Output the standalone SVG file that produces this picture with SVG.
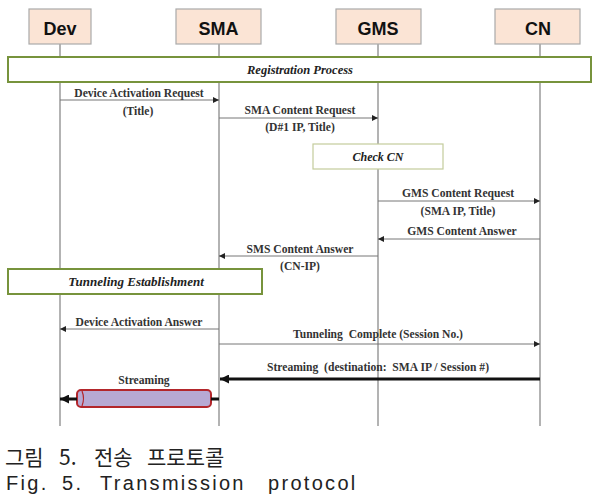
<svg xmlns="http://www.w3.org/2000/svg" width="593" height="495" viewBox="0 0 593 495">
<style>
.box{fill:#fbe4d5;stroke:#aaaaaa;stroke-width:1.2}
.lbl{font-family:"Liberation Sans",Arial,sans-serif;font-weight:bold;font-size:18px;fill:#111;text-anchor:middle}
.life{stroke:#9a9a9a;stroke-width:1.5;fill:none}
.band{fill:#fff;stroke:#77933c;stroke-width:2}
.band2{fill:#fff;stroke:#c4cc9c;stroke-width:1.2}
.bt{font-family:"Liberation Serif","Times New Roman",serif;font-style:italic;font-weight:bold;fill:#222;text-anchor:middle}
.msg{stroke:#777;stroke-width:1;fill:none}
.thick{stroke:#111;stroke-width:3;fill:none}
.mt{font-family:"Liberation Serif","Times New Roman",serif;font-weight:bold;font-size:11.6px;fill:#333;text-anchor:middle}
.cap{font-family:"Noto Sans CJK KR","Noto Sans",sans-serif;font-size:21px;fill:#222}
.fig{font-family:"Liberation Sans",Arial,sans-serif;font-size:20px;letter-spacing:2.3px;fill:#222}
</style>
<defs>
<marker id="ah" viewBox="0 0 10 10" refX="10" refY="5" markerWidth="6" markerHeight="6" markerUnits="userSpaceOnUse" orient="auto"><path d="M0,0 L10,5 L0,10 z" fill="#222"/></marker>
<marker id="ahb" viewBox="0 0 10 10" refX="10" refY="5" markerWidth="10" markerHeight="9" markerUnits="userSpaceOnUse" orient="auto"><path d="M0,0 L10,5 L0,10 z" fill="#111"/></marker>
</defs>

<g id="lifelines">
<line class="life" x1="60" y1="44" x2="60" y2="426"/>
<line class="life" x1="219" y1="44" x2="219" y2="426"/>
<line class="life" x1="378" y1="44" x2="378" y2="426"/>
<line class="life" x1="540" y1="44" x2="540" y2="426"/>
</g>

<g id="dev"><rect class="box" x="29" y="9" width="62" height="35"/><text class="lbl" x="60" y="35">Dev</text></g>
<g id="sma"><rect class="box" x="176" y="9" width="85" height="35"/><text class="lbl" x="218.5" y="35">SMA</text></g>
<g id="gms"><rect class="box" x="336" y="9" width="85" height="35"/><text class="lbl" x="378" y="35">GMS</text></g>
<g id="cn"><rect class="box" x="495" y="9" width="85" height="35"/><text class="lbl" x="538" y="35">CN</text></g>

<g id="registration"><rect class="band" x="8" y="57" width="583" height="25"/><text class="bt" x="300" y="74" font-size="12.5">Registration Process</text></g>
<g id="checkcn"><rect class="band2" x="313" y="144" width="130" height="25"/><text class="bt" x="378" y="161" font-size="12">Check CN</text></g>
<g id="tunneling"><rect class="band" x="8" y="269" width="254" height="25"/><text class="bt" x="136" y="286" font-size="13">Tunneling Establishment</text></g>

<g id="streambar">
<rect x="77" y="390" width="134" height="17" rx="4" fill="#b7a9d3" stroke="#b3262b" stroke-width="2"/>
<path d="M82,391 Q85,398.5 82,406" fill="none" stroke="#b3262b" stroke-width="1.2"/>
</g>

<g id="connectors">
<line class="msg" x1="60" y1="100" x2="219" y2="100" marker-end="url(#ah)"/>
<line class="msg" x1="219" y1="118" x2="378" y2="118" marker-end="url(#ah)"/>
<line class="msg" x1="378" y1="201" x2="540" y2="201" marker-end="url(#ah)"/>
<line class="msg" x1="540" y1="239" x2="378" y2="239" marker-end="url(#ah)"/>
<line class="msg" x1="378" y1="256" x2="219" y2="256" marker-end="url(#ah)"/>
<line class="msg" x1="219" y1="329" x2="60" y2="329" marker-end="url(#ah)"/>
<line class="msg" x1="219" y1="344" x2="540" y2="344" marker-end="url(#ah)"/>
<line class="thick" x1="540" y1="379" x2="220" y2="379" marker-end="url(#ahb)"/>
<line class="thick" x1="211" y1="399" x2="219" y2="399"/>
<line class="thick" x1="77" y1="399" x2="60" y2="399" marker-end="url(#ahb)"/>
</g>

<g id="labels">
<text class="mt" x="139" y="97">Device Activation  Request</text>
<text class="mt" x="138" y="115">(Title)</text>
<text class="mt" x="300" y="114">SMA Content  Request</text>
<text class="mt" x="300" y="131">(D#1 IP, Title)</text>
<text class="mt" x="458" y="197">GMS Content  Request</text>
<text class="mt" x="458" y="215">(SMA IP, Title)</text>
<text class="mt" x="462" y="235">GMS Content  Answer</text>
<text class="mt" x="300" y="253">SMS Content Answer</text>
<text class="mt" x="300" y="270">(CN-IP)</text>
<text class="mt" x="139" y="326">Device Activation  Answer</text>
<text class="mt" x="378" y="338" xml:space="preserve">Tunneling  Complete (Session No.)</text>
<text class="mt" x="378" y="371" xml:space="preserve">Streaming  (destination:  SMA IP / Session #)</text>
<text class="mt" x="144" y="384">Streaming</text>
</g>

<g id="caption">
<text class="cap" y="465"><tspan x="5">그림</tspan><tspan x="59">5.</tspan><tspan x="94">전송</tspan><tspan x="147">프로토콜</tspan></text>
<text class="fig" y="490"><tspan x="6">Fig.</tspan><tspan x="62">5.</tspan><tspan x="100">Transmission</tspan><tspan x="268">protocol</tspan></text>
</g>
</svg>
